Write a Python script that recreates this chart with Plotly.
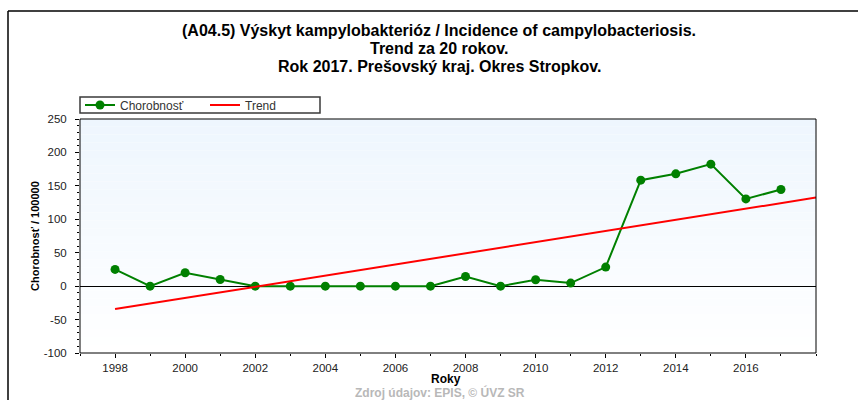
import plotly.graph_objects as go

years = [1998, 1999, 2000, 2001, 2002, 2003, 2004, 2005, 2006, 2007,
         2008, 2009, 2010, 2011, 2012, 2013, 2014, 2015, 2016, 2017]
incidence = [25, 0, 20, 10, 0, 0, 0, 0, 0, 0,
             14.5, 0, 9.6, 4.6, 28.5, 158.5, 168, 182.5, 130.5, 144.5]
trend_years = [1998, 2018]
trend_values = [-34.3, 132.5]
x_tick_vals = [1998, 2000, 2002, 2004, 2006, 2008, 2010, 2012, 2014, 2016]
y_tick_vals = [-100, -50, 0, 50, 100, 150, 200, 250]

title_lines = [
    "(A04.5) Výskyt kampylobakterióz / Incidence of campylobacteriosis.",
    "Trend za 20 rokov.",
    "Rok 2017. Prešovský kraj. Okres Stropkov.",
]
y_title = "Chorobnosť / 100000"
x_title = "Roky"
source_text = "Zdroj údajov: EPIS, © ÚVZ SR"
series_names = ["Chorobnosť", "Trend"]

W, H = 858, 400
L, R, T, B = 80, 816, 119, 353
FONT = "Liberation Sans, Arial, sans-serif"

def px(xp):
    return (xp - L) / (R - L)

def py(yp):
    return (B - yp) / (B - T)

XR = [1997, 2018]
YR = [-100, 250]

fig = go.Figure()
fig.add_trace(go.Scatter(
    x=years, y=incidence, name=series_names[0], mode="lines+markers",
    line=dict(color="#008000", width=2),
    marker=dict(color="#008000", size=9),
))
fig.add_trace(go.Scatter(
    x=trend_years, y=trend_values, name=series_names[1], mode="lines",
    line=dict(color="#ff0000", width=2),
))

tickfont = dict(family=FONT, size=11.5, color="#222222")
base_x = dict(range=XR, showgrid=False, zeroline=False, linecolor="black",
              tickcolor="black", tickfont=tickfont, tickmode="array",
              tickvals=x_tick_vals, ticktext=[str(v) for v in x_tick_vals])
base_y = dict(range=YR, showgrid=False, linecolor="black",
              tickcolor="black", tickfont=tickfont, tickmode="array",
              tickvals=y_tick_vals, ticktext=[str(v) for v in y_tick_vals])
minor_x = dict(dtick=1, tick0=1997, ticklen=2, tickcolor="black")
minor_y = dict(dtick=10, tick0=0, ticklen=2, tickcolor="black")

shapes = []
# gradient background bands
n = 30
for i in range(n):
    f = i / (n - 1)
    r = round(238 + (255 - 238) * f)
    g = round(246 + (255 - 246) * f)
    b = round(254 + (255 - 254) * f)
    shapes.append(dict(type="rect", xref="x domain", yref="y domain",
                       x0=0, x1=1, y0=1 - (i + 1) / n, y1=1 - i / n,
                       fillcolor=f"rgb({r},{g},{b})", line=dict(width=0),
                       layer="below"))
# plot frame
shapes.append(dict(type="rect", xref="x domain", yref="y domain",
                   x0=0, x1=1, y0=0, y1=1, line=dict(color="black", width=1),
                   fillcolor="rgba(0,0,0,0)", layer="above"))
# legend frame
shapes.append(dict(type="rect", xref="paper", yref="paper",
                   x0=px(80), x1=px(320), y0=py(113), y1=py(97),
                   line=dict(color="#3a3a3a", width=1.5),
                   fillcolor="rgba(0,0,0,0)", layer="above"))
# outer frame lines
shapes.append(dict(type="line", xref="paper", yref="paper",
                   x0=px(8), x1=px(8), y0=py(11), y1=py(402),
                   line=dict(color="black", width=1.5)))
shapes.append(dict(type="line", xref="paper", yref="paper",
                   x0=px(8), x1=px(860), y0=py(11), y1=py(11),
                   line=dict(color="black", width=1.5)))

annotations = []
for txt, yc in zip(title_lines, [30.5, 48.5, 66.5]):
    annotations.append(dict(text=f"<b>{txt}</b>", xref="paper", yref="paper",
                            x=px(439), y=py(yc), xanchor="center", yanchor="middle",
                            showarrow=False,
                            font=dict(family=FONT, size=16, color="black")))
annotations.append(dict(text=f"<b>{y_title}</b>", xref="paper", yref="paper",
                        x=px(35), y=py(236), xanchor="center", yanchor="middle",
                        textangle=-90, showarrow=False,
                        font=dict(family=FONT, size=11, color="black")))
annotations.append(dict(text=f"<b>{x_title}</b>", xref="paper", yref="paper",
                        x=px(446), y=py(379), xanchor="center", yanchor="middle",
                        showarrow=False,
                        font=dict(family=FONT, size=12, color="black")))
annotations.append(dict(text=f"<b>{source_text}</b>", xref="paper", yref="paper",
                        x=px(440), y=py(392.5), xanchor="center", yanchor="middle",
                        showarrow=False,
                        font=dict(family=FONT, size=12, color="#b8b8b8")))

fig.update_layout(
    width=W, height=H,
    margin=dict(l=L, r=W - R, t=T, b=H - B, pad=0),
    paper_bgcolor="white", plot_bgcolor="white",
    showlegend=True,
    legend=dict(orientation="h", x=0, xanchor="left", y=py(105), yanchor="middle",
                borderwidth=0, bgcolor="rgba(255,255,255,0)",
                font=dict(family=FONT, size=12, color="#333333"),
                entrywidth=80, entrywidthmode="pixels"),
    xaxis=dict(**base_x, side="bottom", showline=False, ticks="outside", ticklen=4,
               minor=dict(**minor_x, ticks="outside")),
    xaxis2=dict(**base_x, overlaying="x", side="top", showline=False, ticks="inside",
                ticklen=4, showticklabels=False,
                minor=dict(**minor_x, ticks="inside")),
    xaxis3=dict(**base_x, overlaying="x", side="bottom", showline=False, ticks="inside",
                ticklen=3, showticklabels=False),
    yaxis=dict(**base_y, side="left", showline=False, ticks="outside", ticklen=4,
               zeroline=True, zerolinecolor="black", zerolinewidth=1,
               ticklabelstandoff=6,
               minor=dict(**minor_y, ticks="outside")),
    yaxis2=dict(**base_y, overlaying="y", side="right", showline=False, ticks="outside",
                ticklen=4, zeroline=False, ticklabelstandoff=5,
                minor=dict(**minor_y, ticks="outside")),
    yaxis3=dict(**base_y, overlaying="y", side="left", showline=False, ticks="inside",
                ticklen=3, zeroline=False, showticklabels=False),
    yaxis4=dict(**base_y, overlaying="y", side="right", showline=False, ticks="inside",
                ticklen=3, zeroline=False, showticklabels=False),
    shapes=shapes,
    annotations=annotations,
)

fig.write_html("out.html", config={"displayModeBar": False},
               post_script="document.body.style.margin='0';")
